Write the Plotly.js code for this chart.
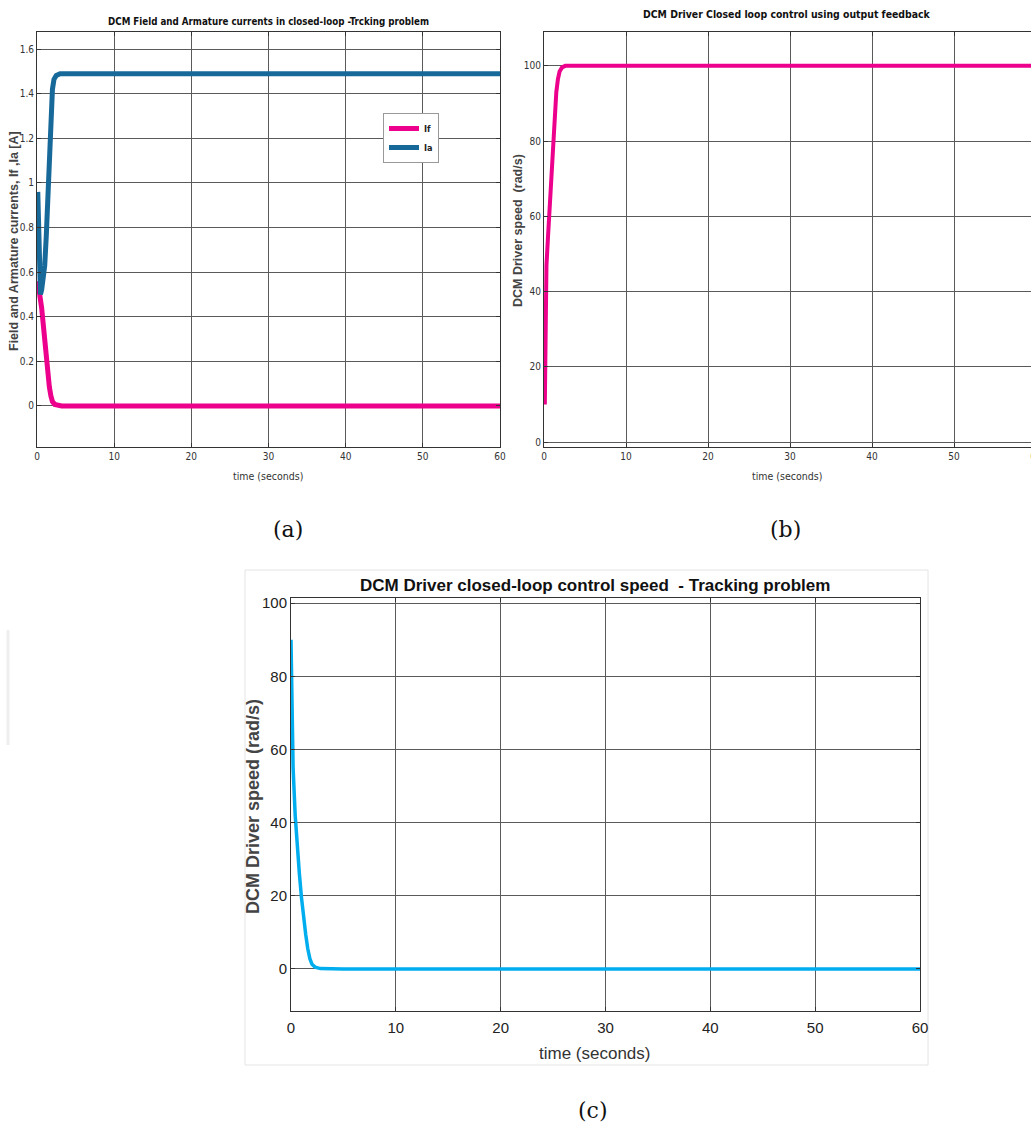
<!DOCTYPE html>
<html>
<head>
<meta charset="utf-8">
<script src="https://cdn.plot.ly/plotly-3.0.1.min.js"></script>
<style>
html,body{margin:0;padding:0;overflow:hidden;background:#fff;}
#chart{width:1045px;height:1125px;}
</style>
</head>
<body>
<div id="chart"></div>
<script>
// ---- Data ----
// (a) Field and armature currents
const tIf = [0.1, 0.2, 0.4, 0.6, 0.8, 1.0, 1.2, 1.4, 1.6, 1.8, 2.0, 2.3, 2.7, 3.2, 5, 10, 20, 30, 40, 50, 60];
const If  = [0.56, 0.54, 0.5, 0.44, 0.37, 0.29, 0.21, 0.14, 0.085, 0.045, 0.02, 0.007, 0.002, 0, 0, 0, 0, 0, 0, 0, 0];
const tIa = [0.1, 0.2, 0.3, 0.45, 0.6, 0.8, 1.0, 1.2, 1.4, 1.6, 1.8, 2.0, 2.2, 2.5, 3.0, 5, 10, 20, 30, 40, 50, 60];
const Ia  = [0.96, 0.8, 0.6, 0.5, 0.52, 0.56, 0.63, 0.76, 0.95, 1.15, 1.32, 1.42, 1.465, 1.482, 1.49, 1.49, 1.49, 1.49, 1.49, 1.49, 1.49, 1.49];
// (b) Speed, output feedback
const tB = [0.1, 0.15, 0.2, 0.3, 0.5, 0.7, 0.9, 1.1, 1.3, 1.5, 1.7, 1.9, 2.2, 2.6, 3, 5, 10, 20, 30, 40, 50, 60];
const wB = [10, 30, 42, 47, 55, 62, 70, 79, 87, 93, 96.5, 98.5, 99.6, 100, 100, 100, 100, 100, 100, 100, 100, 100];
// (c) Speed, tracking problem
const tC = [0, 0.05, 0.2, 0.4, 0.6, 0.8, 1.0, 1.2, 1.4, 1.6, 1.8, 2.0, 2.3, 2.8, 3.5, 5, 10, 20, 30, 40, 50, 60];
const wC = [90, 76, 55, 42, 33, 26, 19.5, 14, 9.5, 5.5, 2.8, 1.3, 0.5, 0.1, 0, 0, 0, 0, 0, 0, 0, 0];

const xTicks = [0, 10, 20, 30, 40, 50, 60];
const yTicksA = [0, 0.2, 0.4, 0.6, 0.8, 1, 1.2, 1.4, 1.6];
const yTicksBC = [0, 20, 40, 60, 80, 100];

// ---- Layout helpers ----
const W = 1045, H = 1125;
const fx = p => p / W;
const fy = p => 1 - p / H;

const PINK = '#ec008c', BLUE = '#17699a', CYAN = '#00aeef';
const COND = '"DejaVu Sans Condensed", "Liberation Sans Narrow", "Liberation Sans", Arial, sans-serif';
const SANS = '"Liberation Sans", Arial, sans-serif';
const SERIF = '"DejaVu Serif", "Liberation Serif", serif';

function ax(domain, range, tickvals, fontSize, family, color) {
  return {
    domain: domain, range: range, tickvals: tickvals, ticktext: tickvals.map(String),
    showline: true, linecolor: '#333', linewidth: 1, mirror: 'ticks',
    ticks: 'inside', ticklen: 4, tickcolor: '#333',
    showgrid: true, gridcolor: '#5a5a5a', gridwidth: 1, zeroline: false,
    tickfont: {family: family, size: fontSize, color: color || '#333'},
    fixedrange: true
  };
}

function label(text, px, py, family, size, color, angle) {
  return {text: text, x: fx(px), y: fy(py), xref: 'paper', yref: 'paper',
    xanchor: 'center', yanchor: 'middle', showarrow: false, textangle: angle || 0,
    font: {family: family, size: size, color: color}};
}

const traces = [
  {x: tIf, y: If, name: '<b>If</b>', type: 'scatter', mode: 'lines', line: {color: PINK, width: 5}, xaxis: 'x', yaxis: 'y'},
  {x: tIa, y: Ia, name: '<b>Ia</b>', type: 'scatter', mode: 'lines', line: {color: BLUE, width: 5}, xaxis: 'x', yaxis: 'y'},
  {x: tB, y: wB, name: 'speed b', type: 'scatter', mode: 'lines', line: {color: PINK, width: 4}, xaxis: 'x2', yaxis: 'y2', showlegend: false},
  {x: tC, y: wC, name: 'speed c', type: 'scatter', mode: 'lines', line: {color: CYAN, width: 3.5}, xaxis: 'x3', yaxis: 'y3', showlegend: false}
];

const layout = {
  width: W, height: H,
  margin: {l: 0, r: 0, t: 0, b: 0},
  paper_bgcolor: '#fff', plot_bgcolor: '#fff',
  showlegend: true,
  legend: {
    x: fx(383), y: fy(113), xanchor: 'left', yanchor: 'top',
    bgcolor: '#fff', bordercolor: '#999', borderwidth: 1,
    font: {family: COND, size: 9, color: '#222'},
    tracegroupgap: 0, itemwidth: 30
  },
  xaxis: Object.assign(ax([fx(37), fx(500)], [0, 60], xTicks, 10, COND), {anchor: 'y'}),
  yaxis: Object.assign(ax([fy(447), fy(32)], [-0.184, 1.677], yTicksA, 10, COND), {anchor: 'x'}),
  xaxis2: Object.assign(ax([fx(544), fx(1036)], [0, 60], xTicks, 10, COND), {anchor: 'y2'}),
  yaxis2: Object.assign(ax([fy(447), fy(32)], [-1.3, 109], yTicksBC, 10, COND), {anchor: 'x2'}),
  xaxis3: Object.assign(ax([fx(291), fx(920)], [0, 60], xTicks, 15, SANS, '#222'), {anchor: 'y3', ticklabelstandoff: 3}),
  yaxis3: Object.assign(ax([fy(1011), fy(598)], [-11.5, 101.4], yTicksBC, 15, SANS, '#222'), {anchor: 'x3'}),
  shapes: [
    {type: 'rect', xref: 'paper', yref: 'paper', x0: fx(245), x1: fx(928), y0: fy(1065), y1: fy(570), line: {color: '#e4e4e4', width: 1}, layer: 'below'},
    {type: 'line', xref: 'paper', yref: 'paper', x0: fx(8), x1: fx(8), y0: fy(745), y1: fy(630), line: {color: '#eeeeee', width: 3}, layer: 'below'}
  ],
  annotations: [
    // titles
    label('<b>DCM Field and Armature currents in closed-loop -Trcking problem</b>', 268, 22, COND, 9.7, '#111'),
    label('<b>DCM Driver Closed loop control using output feedback</b>', 787, 14, COND, 10.4, '#111'),
    label('<b>DCM Driver closed-loop control speed  - Tracking problem</b>', 595, 585, SANS, 17, '#111'),
    // x labels
    label('time (seconds)', 268, 476, COND, 10.5, '#333'),
    label('time (seconds)', 787, 476, COND, 10.5, '#333'),
    label('time (seconds)', 594, 1053, SANS, 17, '#333'),
    // y labels
    label('<b>Field and Armature currents, If ,Ia [A]</b>', 14, 241, SANS, 12.5, '#444', -90),
    label('<b>DCM Driver speed  (rad/s)</b>', 518, 231, SANS, 12.5, '#444', -90),
    label('<b>DCM Driver speed (rad/s)</b>', 253, 807, SANS, 18, '#444', -90),
    // panel labels
    label('(a)', 288, 530, SERIF, 22, '#111'),
    label('(b)', 785, 530, SERIF, 22, '#111'),
    label('(c)', 593, 1110, SERIF, 22, '#111')
  ]
};

Plotly.newPlot('chart', traces, layout, {displayModeBar: false, staticPlot: true});
</script>
</body>
</html>
